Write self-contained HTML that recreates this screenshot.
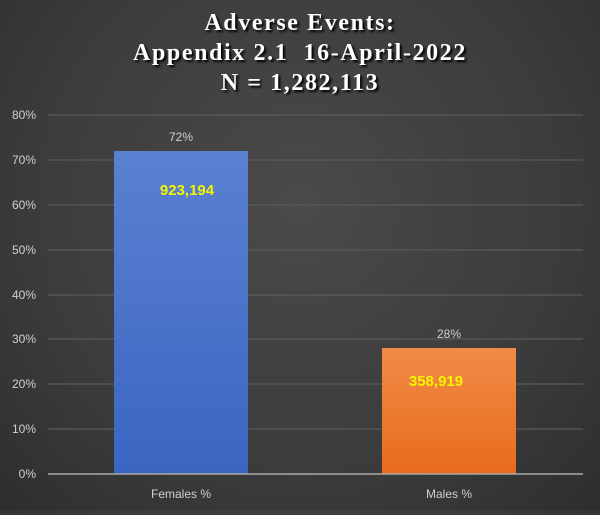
<!DOCTYPE html>
<html><head><meta charset="utf-8"><style>
html,body{margin:0;padding:0}
body{width:600px;height:510px;overflow:hidden;background:radial-gradient(ellipse at 50% 40%,#4a4a4a 0%,#3c3c3c 60%,#2e2e2e 100%);font-family:"Liberation Sans",sans-serif}
</style></head><body>
<svg width="600" height="510" xmlns="http://www.w3.org/2000/svg">
<defs>
<linearGradient id="b" x1="0" y1="0" x2="0" y2="1"><stop offset="0" stop-color="#5a80d0"/><stop offset="1" stop-color="#3a66c2"/></linearGradient>
<linearGradient id="o" x1="0" y1="0" x2="0" y2="1"><stop offset="0" stop-color="#f28a48"/><stop offset="1" stop-color="#e76c1c"/></linearGradient>
</defs>
<g font-family="Liberation Serif,serif" font-weight="bold" font-size="24" letter-spacing="1.6" fill="#fff" text-anchor="middle" style="text-shadow:2px 2px 2px #000">
<text x="300" y="30">Adverse Events:</text>
<text x="300" y="60" xml:space="preserve">Appendix 2.1  16-April-2022</text>
<text x="300" y="90">N = 1,282,113</text>
</g>
<g stroke="#5a5a5a" stroke-width="1.2">
<line x1="48" x2="583" y1="115" y2="115"/><line x1="48" x2="583" y1="160" y2="160"/>
<line x1="48" x2="583" y1="205" y2="205"/><line x1="48" x2="583" y1="250" y2="250"/>
<line x1="48" x2="583" y1="295" y2="295"/><line x1="48" x2="583" y1="339" y2="339"/>
<line x1="48" x2="583" y1="384" y2="384"/><line x1="48" x2="583" y1="429" y2="429"/>
</g>
<rect x="114" y="151" width="134" height="323" fill="url(#b)"/>
<rect x="382" y="348" width="134" height="126" fill="url(#o)"/>
<line x1="48" x2="583" y1="474" y2="474" stroke="#aaa" stroke-width="1.5"/>
<g font-size="12" fill="#d0d0d0" text-anchor="end">
<text x="36" y="119">80%</text><text x="36" y="164">70%</text><text x="36" y="209">60%</text>
<text x="36" y="254">50%</text><text x="36" y="299">40%</text><text x="36" y="343">30%</text>
<text x="36" y="388">20%</text><text x="36" y="433">10%</text><text x="36" y="478">0%</text>
</g>
<g font-size="12" fill="#d0d0d0" text-anchor="middle">
<text x="181" y="141">72%</text><text x="449" y="338">28%</text>
<text x="181" y="498">Females %</text><text x="449" y="498">Males %</text>
</g>
<g font-size="15" font-weight="bold" fill="#f5f500" text-anchor="middle">
<text x="187" y="195">923,194</text><text x="436" y="386">358,919</text>
</g>
</svg>
</body></html>
